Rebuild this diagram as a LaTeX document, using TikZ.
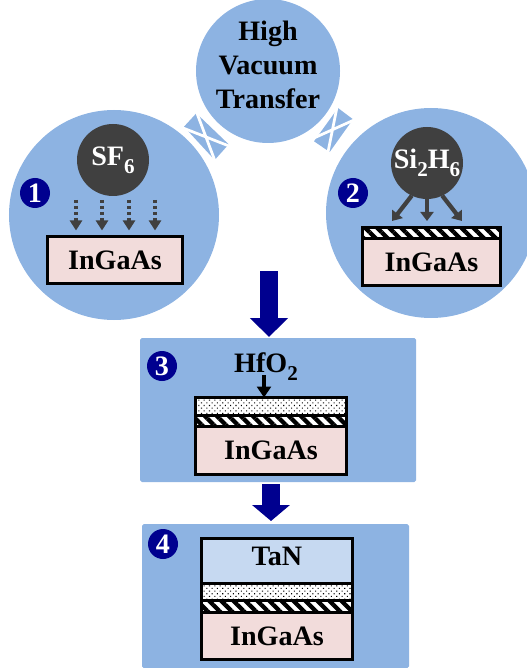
\documentclass[tikz,border=0pt]{standalone}
\usepackage{fontspec}
\setmainfont{Liberation Serif}
\usetikzlibrary{arrows.meta, positioning, patterns.meta}
\definecolor{cpanel}{HTML}{8DB3E2}
\definecolor{cdark}{HTML}{404040}
\definecolor{cnavy}{HTML}{00008F}
\definecolor{cpink}{HTML}{F2DCDB}
\definecolor{cmetal}{HTML}{C6D9F1}
\newcommand{\lowidx}[1]{\raisebox{-0.28em}{\fontsize{12}{12}\selectfont #1}}
\tikzset{
  every picture/.style={font=\bfseries\fontsize{16}{20}\selectfont, x=0.2mm, y=-0.2mm},
  every node/.append style={outer sep=0pt},
  chamber/.style={circle, fill=cpanel, minimum size=#1, inner sep=0pt},
  gasball/.style={circle, fill=cdark, text=white, minimum size=14.4mm, inner sep=0pt},
  badge/.style={circle, fill=cnavy, text=white, minimum size=6mm, inner sep=0pt},
  panel/.style={fill=cpanel, rounded corners=1pt, anchor=north west, minimum width=#1},
  substrate/.style={draw, line width=0.6mm, fill=cpink, minimum height=#1, minimum width=30.2mm},
  hatchband/.style={draw, line width=0.6mm, minimum height=1.7mm, minimum width=30.2mm, preaction={fill=white},
    pattern={Lines[angle=-45, distance=1.7mm, line width=0.85mm]}, pattern color=black},
  dotband/.style={draw, line width=0.6mm, minimum height=3.5mm, minimum width=30.2mm, preaction={fill=white},
    pattern={Dots[radius=0.15mm, distance=0.75mm, angle=45]}, pattern color=black},
  gatebox/.style={draw, line width=0.6mm, fill=cmetal, minimum height=8.9mm, minimum width=30.2mm},
  dotarrow/.style={-{Triangle[length=2mm, width=2.4mm]}, draw=cdark, line width=0.7mm, dash pattern=on 0.6mm off 0.6mm, shorten >=1.2mm},
  gasarrow/.style={-{Triangle[length=1.8mm, width=2.6mm]}, draw=cdark, line width=0.85mm},
  depoarrow/.style={-{Triangle[length=2.2mm, width=2.8mm]}, draw=black, line width=0.7mm},
  bigarrow/.style={-{Triangle[length=#1, width=7.4mm]}, draw=cnavy, line width=3.7mm},
  valve/.style={fill=cpanel},
  valvex/.style={draw=white, line width=0.55mm},
}

\begin{document}
\begin{tikzpicture}
  \useasboundingbox (0,0) rectangle (526,668);
  % the three chambers
  \node[chamber=28.8mm] (transfer) at (268,71) {};
  \node[align=center] (transfertext) at (268,65) {High\\[-0.5pt]Vacuum\\[-0.5pt]Transfer};
  \node[chamber=42mm] (etch) at (114,215) {};
  \node[chamber=42mm] (depo) at (431,213) {};
  \node[badge] (b1) at (35,193) {1};
  \node[badge] (b2) at (353,193) {2};
  % valves
  \fill[valve] (184,126.7) -- (196.3,113.3) -- (228.7,144.3) -- (214.7,160) -- cycle;
  \draw[valvex] (183,128) -- (229,146) (196.5,112) -- (215,161);
  \fill[valve] (338,108) -- (353,119.3) -- (329.7,152) -- (314,141.3) -- cycle;
  \draw[valvex] (354,120) -- (314,138) (337,107) -- (328,152);
  % step 1
  \node[gasball] (sf) at (113,160) {SF\lowidx{6}};
  \node[substrate=9.4mm, minimum width=26.8mm] (sub1) at (115,260) {InGaAs};
  \foreach \x/\name in {76/a, 102/b, 129/c, 155/d} {
    \coordinate (in\name) at (\x,200);
    \draw[dotarrow] (in\name) -- (in\name |- sub1.north);
  }
  % step 2
  \node[gasball] (sih) at (427,163) {Si\lowidx{2}H\lowidx{6}};
  \node[substrate=9.3mm, minimum width=27.6mm] (sub2) at (431.5,262.25) {InGaAs};
  \node[hatchband, minimum width=27.6mm, above=0pt of sub2] (hatch2) {};
  \coordinate (t1) at (392,221);
  \coordinate (t2) at (427,221);
  \coordinate (t3) at (462,221);
  \draw[gasarrow] (sih.245) -- (t1);
  \draw[gasarrow] (sih.south) -- (t2);
  \draw[gasarrow] (sih.295) -- (t3);
  % big arrows
  \coordinate (arrowa) at (269,271);
  \coordinate (arrowb) at (269,337);
  \draw[bigarrow=3.8mm] (arrowa) -- (arrowb);
  % step 3
  \node[panel, minimum height=28.8mm, minimum width=55.2mm] (p3) at (140,338) {};
  \node[badge] (b3) at (162,366) {3};
  \node[dotband, anchor=north] (dots3) at (271,397.5) {};
  \node[hatchband, below=0pt of dots3] (hatch3) {};
  \node[substrate=9.5mm, below=0pt of hatch3] (sub3) {InGaAs};
  \node (hfo) at (266,367) {HfO\lowidx{2}};
  \coordinate (hfoin) at (264,375);
  \draw[depoarrow] (hfoin) -- (hfoin |- dots3.north);
  \coordinate (arrowc) at (271,484);
  \coordinate (arrowd) at (271,521);
  \draw[bigarrow=3.2mm] (arrowc) -- (arrowd);
  % step 4
  \node[panel, minimum height=28.8mm, minimum width=53.4mm] (p4) at (142,524) {};
  \node[badge] (b4) at (163,544) {4};
  \node[gatebox, anchor=north] (tan) at (277,538.5) {};
  \node (tantext) at (277,556) {TaN};
  \node[dotband, below=0pt of tan] (dots4) {};
  \node[hatchband, below=0pt of dots4] (hatch4) {};
  \node[substrate=9.5mm, below=0pt of hatch4] (sub4) {InGaAs};
\end{tikzpicture}
\end{document}
